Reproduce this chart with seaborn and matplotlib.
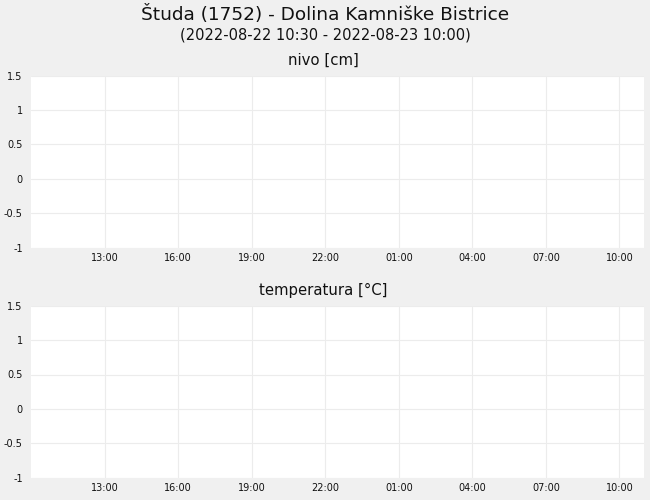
import matplotlib
matplotlib.use("Agg")
import matplotlib.pyplot as plt
import matplotlib.dates as mdates
import pandas as pd
import seaborn as sns

# podatki (postaja nima meritev v tem obdobju)
title = "Študa (1752) - Dolina Kamniške Bistrice"
subtitle = "(2022-08-22 10:30 - 2022-08-23 10:00)"
panel_titles = ["nivo [cm]", "temperatura [°C]"]
x_start = "2022-08-22 10:00"
x_end = "2022-08-23 11:00"
x_ticks = ["2022-08-22 13:00", "2022-08-22 16:00", "2022-08-22 19:00",
           "2022-08-22 22:00", "2022-08-23 01:00", "2022-08-23 04:00",
           "2022-08-23 07:00", "2022-08-23 10:00"]
y_ticks = [-1, -0.5, 0, 0.5, 1, 1.5]
y_tick_labels = ["-1", "-0.5", "0", "0.5", "1", "1.5"]
nivo_times = []
nivo_values = []
temp_times = []
temp_values = []

sns.set_theme(style="white")
plt.rcParams['font.family'] = ['DejaVu Sans']

fig = plt.figure(figsize=(6.5, 5), dpi=100, facecolor='#f0f0f0')
fig.text(0.5, 0.970, title, ha='center', va='center', fontsize=13.3, color='#111111')
fig.text(0.5, 0.931, subtitle, ha='center', va='center', fontsize=10.5, color='#111111')

positions = [[0.0477, 0.5046, 0.943, 0.344], [0.0477, 0.0446, 0.943, 0.344]]
title_y = [0.879, 0.419]
series = [(nivo_times, nivo_values), (temp_times, temp_values)]

for pos, name, ty, (t, v) in zip(positions, panel_titles, title_y, series):
    ax = fig.add_axes(pos)
    ax.set_facecolor('white')
    df = pd.DataFrame({'cas': pd.to_datetime(t), 'vrednost': pd.Series(v, dtype=float)})
    if len(df):
        sns.lineplot(data=df, x='cas', y='vrednost', ax=ax, color='#1f77b4')
    ax.set_xlim(pd.Timestamp(x_start), pd.Timestamp(x_end))
    ax.set_ylim(y_ticks[0], y_ticks[-1])
    ax.set_xticks(pd.to_datetime(x_ticks))
    ax.xaxis.set_major_formatter(mdates.DateFormatter('%H:%M'))
    ax.set_yticks(y_ticks)
    ax.set_yticklabels(y_tick_labels)
    ax.grid(True, color='#ececec', linewidth=0.8)
    ax.tick_params(axis='both', length=0, labelsize=7, colors='#111111')
    ax.tick_params(axis='x', pad=3.5)
    ax.tick_params(axis='y', pad=6)
    for s in ax.spines.values():
        s.set_visible(False)
    ax.set_xlabel('')
    ax.set_ylabel('')
    fig.text(0.497, ty, name, ha='center', va='center', fontsize=10.7, color='#111111')

fig.savefig('out.png', dpi=100, facecolor=fig.get_facecolor())
